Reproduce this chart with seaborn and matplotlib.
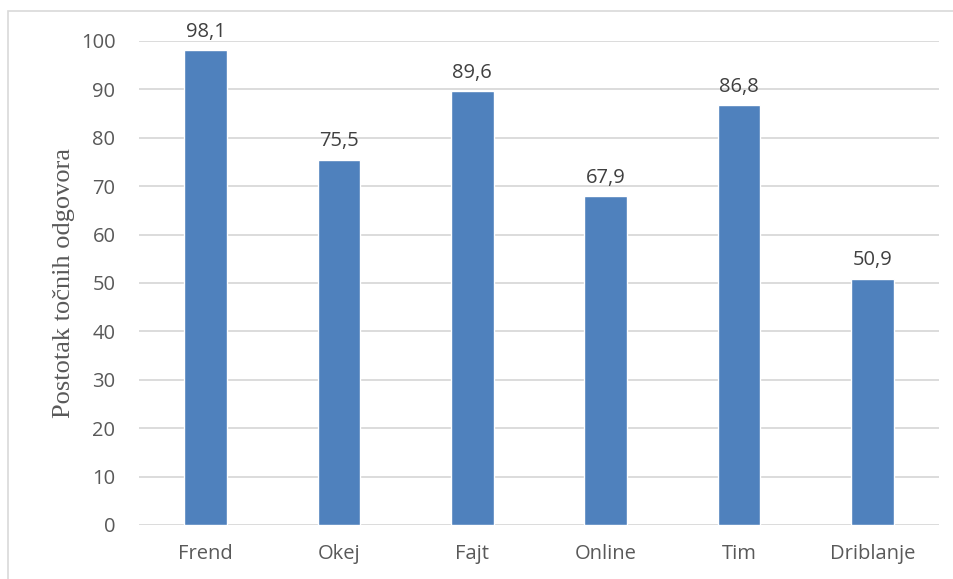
import matplotlib
matplotlib.use("Agg")
import matplotlib.pyplot as plt
import seaborn as sns
import pandas as pd
from matplotlib.patches import Rectangle

categories = ["Frend", "Okej", "Fajt", "Online", "Tim", "Driblanje"]
values = [98.1, 75.5, 89.6, 67.9, 86.8, 50.9]
yticks = [0, 10, 20, 30, 40, 50, 60, 70, 80, 90, 100]
ylabel = "Postotak točnih odgovora"

df = pd.DataFrame({"kategorija": categories, "postotak": values})

sns.set_theme(style="white")
plt.rcParams["font.family"] = ["Open Sans", "DejaVu Sans"]

fig = plt.figure(figsize=(9.54, 5.79), dpi=100)
ax = fig.add_axes([139/954, 1 - 525/579, 800/954, 484/579])

sns.barplot(data=df, x="kategorija", y="postotak", color="#4F81BD",
            width=0.32, saturation=1, ax=ax, zorder=3)

ax.set_ylim(0, 100)
ax.set_yticks(yticks)
ax.yaxis.grid(True, color="#D9D9D9", linewidth=1.3, zorder=0)
ax.set_axisbelow(True)
for s in ax.spines.values():
    s.set_visible(False)
ax.tick_params(axis="both", length=0, labelsize=14.5, colors="#595959")
ax.tick_params(axis="y", pad=17)
ax.tick_params(axis="x", pad=14)
ax.set_xlabel("")
ax.set_ylabel(ylabel, family=["Liberation Serif"], fontsize=19, color="#595959", labelpad=4)

for p, v in zip(ax.patches, values):
    ax.annotate(f"{v:.1f}".replace(".", ","), (p.get_x() + p.get_width() / 2, p.get_height()),
                xytext=(0, 6), textcoords="offset points", ha="center", va="bottom",
                fontsize=14.5, color="#404040")

fig.patches.append(Rectangle((8/954, -0.01), 1.0, 1 - 11/579 + 0.01, transform=fig.transFigure,
                             fill=False, edgecolor="#D9D9D9", linewidth=1.2))

fig.savefig("out.png", dpi=100)
